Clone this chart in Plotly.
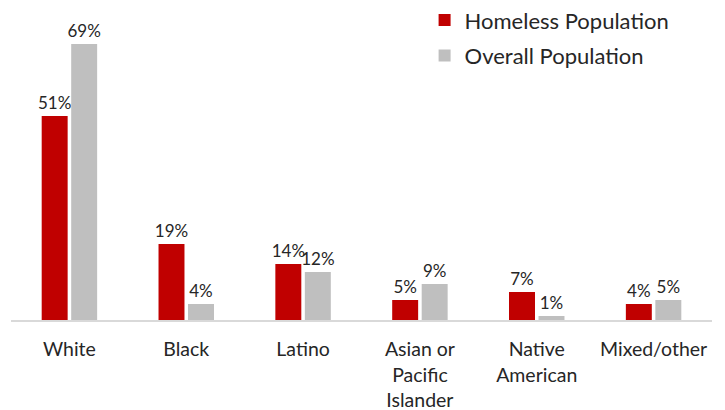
import plotly.graph_objects as go

categories = ["White", "Black", "Latino", "Asian or<br>Pacific<br>Islander", "Native<br>American", "Mixed/other"]
homeless = [51, 19, 14, 5, 7, 4]
overall = [69, 4, 12, 9, 1, 5]

FONT = "Lato"
TXT = "#262626"

fig = go.Figure()
fig.add_trace(go.Bar(
    x=categories, y=homeless, name="Homeless Population",
    marker=dict(color="#C00000", line=dict(width=0)),
    text=[f"{v}%" for v in homeless], textposition="outside",
    textfont=dict(family=FONT, size=17, color=TXT),
    constraintext="none", cliponaxis=False, legendgroup="a",
))
fig.add_trace(go.Bar(
    x=categories, y=overall, name="Overall Population",
    marker=dict(color="#BFBFBF", line=dict(width=0)),
    text=[f"{v}%" for v in overall], textposition="outside",
    textfont=dict(family=FONT, size=17, color=TXT),
    constraintext="none", cliponaxis=False, legendgroup="b",
))

fig.update_layout(
    width=725, height=410,
    margin=dict(l=3, r=21, t=2, b=98, autoexpand=False),
    paper_bgcolor="white", plot_bgcolor="white",
    barmode="group", bargap=0.495, bargroupgap=0.12,
    font=dict(family=FONT, size=20, color=TXT),
    showlegend=True,
    legend=dict(x=0.59, y=1.035, xanchor="left", yanchor="top",
                font=dict(family=FONT, size=22, color=TXT),
                tracegroupgap=4, bgcolor="rgba(0,0,0,0)"),
    xaxis=dict(showline=True, linecolor="#D9D9D9", linewidth=1.5,
               ticks="", tickfont=dict(family=FONT, size=19.5, color=TXT),
               ticklabelstandoff=11,
               showgrid=False, automargin=False),
    yaxis=dict(range=[0, 77.5], visible=False, showgrid=False, zeroline=False,
               automargin=False),
)

fig.write_html("out.html")
